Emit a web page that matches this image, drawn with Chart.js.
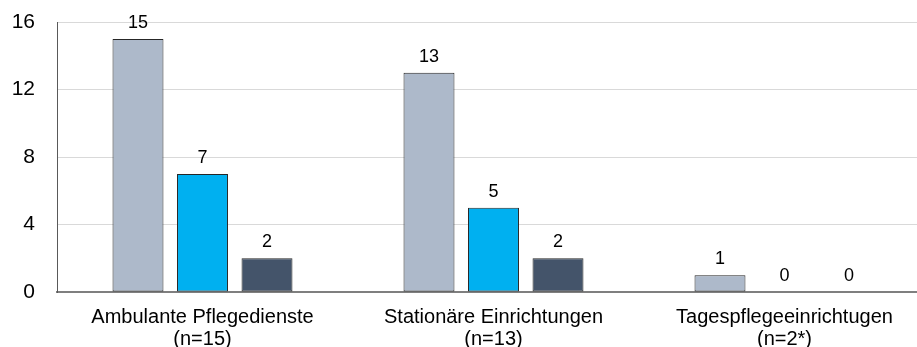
<!DOCTYPE html>
<html>
<head>
<meta charset="utf-8">
<script src="https://cdn.jsdelivr.net/npm/chart.js@4/dist/chart.umd.min.js"></script>
<style>
  html, body { margin: 0; padding: 0; background: #fff; overflow: hidden; }
  #wrap { width: 930px; height: 347px; }
</style>
</head>
<body>
<div id="wrap"><canvas id="chart"></canvas></div>
<script>
const categories = [
    ['Ambulante Pflegedienste', '(n=15)'],
    ['Stationäre Einrichtungen', '(n=13)'],
    ['Tagespflegeeinrichtugen', '(n=2*)']
];
const seriesA = [15, 13, 1];
const seriesB = [7, 5, 0];
const seriesC = [2, 2, 0];
const yTicks = [0, 4, 8, 12, 16];

const colors = ['#adb9ca', '#00b0f0', '#44546a'];

// value labels above every bar (zeros included)
const valueLabels = {
    id: 'valueLabels',
    afterDatasetsDraw(chart) {
        const ctx = chart.ctx;
        ctx.save();
        ctx.font = '18px "Liberation Sans", Arial, sans-serif';
        ctx.fillStyle = '#000';
        ctx.textAlign = 'center';
        ctx.textBaseline = 'alphabetic';
        chart.data.datasets.forEach((ds, i) => {
            chart.getDatasetMeta(i).data.forEach((bar, j) => {
                ctx.fillText(String(ds.data[j]), bar.x, bar.y - 11);
            });
        });
        ctx.restore();
    }
};

new Chart(document.getElementById('chart'), {
    type: 'bar',
    data: {
        labels: categories,
        datasets: [
            { data: seriesA, backgroundColor: colors[0] },
            { data: seriesB, backgroundColor: colors[1] },
            { data: seriesC, backgroundColor: colors[2] }
        ].map(d => Object.assign(d, {
            borderColor: '#262626',
            borderWidth: 1,
            borderSkipped: false,
            categoryPercentage: 0.665,
            barPercentage: 0.79
        }))
    },
    options: {
        responsive: true,
        maintainAspectRatio: false,
        animation: false,
        layout: { padding: { top: 0, left: 10, right: 0, bottom: 0 } },
        plugins: {
            legend: { display: false },
            tooltip: { enabled: false }
        },
        scales: {
            x: {
                grid: { display: false },
                border: { display: true, color: '#7f7f7f', width: 2 },
                ticks: {
                    color: '#000',
                    padding: 6,
                    maxRotation: 0,
                    font: { family: '"Liberation Sans", Arial, sans-serif', size: 20, lineHeight: 1.1 }
                },
                afterFit(scale) { scale.height = 55; }
            },
            y: {
                min: 0,
                max: 16,
                afterBuildTicks(scale) { scale.ticks = yTicks.map(v => ({ value: v })); },
                grid: { color: '#d9d9d9', lineWidth: 1, drawTicks: false },
                border: { display: true, color: '#595959', width: 1 },
                ticks: {
                    color: '#000',
                    padding: 22,
                    font: { family: '"Liberation Sans", Arial, sans-serif', size: 21 }
                },
                afterFit(scale) {
                    scale.width = 47;
                    scale.paddingTop = 22;
                    scale.paddingBottom = 0;
                }
            }
        }
    },
    plugins: [valueLabels]
});
</script>
</body>
</html>
